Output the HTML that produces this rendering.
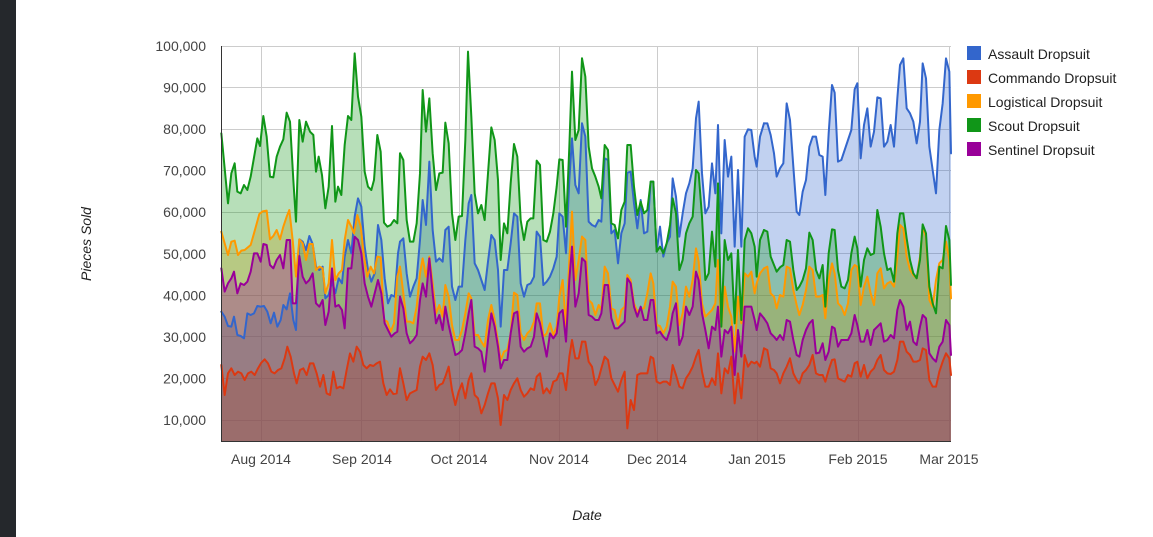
<!DOCTYPE html>
<html><head><meta charset="utf-8"><style>
html,body{margin:0;padding:0;background:#fff;}
body{width:1153px;height:537px;overflow:hidden;position:relative;font-family:"Liberation Sans",Arial,sans-serif;}
#bar{position:absolute;left:0;top:0;width:16px;height:537px;background:#25282c;}
svg{position:absolute;left:0;top:0;}
</style></head><body>
<div id="bar"></div>
<svg width="1153" height="537" viewBox="0 0 1153 537" xmlns="http://www.w3.org/2000/svg" font-family="Liberation Sans, Arial, sans-serif">
<g stroke="#cccccc" stroke-width="1" shape-rendering="crispEdges">
<line x1="221" y1="46.5" x2="951" y2="46.5"/>
<line x1="221" y1="87.5" x2="951" y2="87.5"/>
<line x1="221" y1="129.5" x2="951" y2="129.5"/>
<line x1="221" y1="170.5" x2="951" y2="170.5"/>
<line x1="221" y1="212.5" x2="951" y2="212.5"/>
<line x1="221" y1="253.5" x2="951" y2="253.5"/>
<line x1="221" y1="295.5" x2="951" y2="295.5"/>
<line x1="221" y1="336.5" x2="951" y2="336.5"/>
<line x1="221" y1="378.5" x2="951" y2="378.5"/>
<line x1="221" y1="420.5" x2="951" y2="420.5"/>
<line x1="261.5" y1="46" x2="261.5" y2="441"/>
<line x1="361.5" y1="46" x2="361.5" y2="441"/>
<line x1="459.5" y1="46" x2="459.5" y2="441"/>
<line x1="559.5" y1="46" x2="559.5" y2="441"/>
<line x1="657.5" y1="46" x2="657.5" y2="441"/>
<line x1="757.5" y1="46" x2="757.5" y2="441"/>
<line x1="858.5" y1="46" x2="858.5" y2="441"/>
<line x1="949.5" y1="46" x2="949.5" y2="441"/>
</g>

<!-- AREAS -->
<g fill-opacity="0.3" stroke="none">
<g transform="translate(218,40) scale(0.3333333)">
<polygon fill="#3366cc" points="10,815 20,830 30,858 40,860 48,830 58,885 68,888 78,895 88,820 98,825 108,820 118,798 128,800 138,798 148,815 158,850 168,818 178,860 188,840 196,795 206,808 216,760 226,840 234,870 244,598 254,605 264,630 274,588 284,612 294,680 304,690 314,680 322,775 332,765 342,725 352,760 362,715 372,730 380,650 390,600 400,640 410,530 420,475 430,500 440,620 450,690 460,725 470,700 480,555 490,600 500,715 510,790 520,765 530,770 540,640 546,605 546,1203 10,1203"/>
<polygon fill="#dc3912" points="10,975 20,1065 30,1000 40,985 50,1005 60,995 70,1000 80,1020 90,1000 100,995 110,1005 120,985 130,968 140,958 150,970 160,995 170,1000 180,990 190,985 200,955 208,920 218,950 228,1000 236,1030 246,990 256,985 266,1005 276,970 286,970 296,1000 306,1040 316,1005 326,1060 336,1065 346,995 356,1045 366,1040 376,1045 386,990 396,940 406,965 416,920 426,935 436,975 446,985 456,975 466,978 476,970 486,965 496,1030 506,1065 516,1048 526,1062 536,1060 546,985 546,1203 10,1203"/>
<polygon fill="#ff9900" points="10,575 30,645 40,605 50,602 60,645 70,632 80,630 98,615 108,580 124,522 134,514 146,512 156,598 166,588 176,570 186,598 196,560 206,530 214,510 224,600 234,710 244,598 254,610 264,660 274,612 284,612 294,690 304,680 314,685 322,760 332,730 342,600 352,720 362,700 372,690 380,600 390,540 400,560 408,580 418,525 428,560 438,650 448,710 458,680 468,700 478,650 488,652 498,840 508,845 518,875 528,850 538,710 546,680 546,1203 10,1203"/>
<polygon fill="#109618" points="10,280 30,490 40,400 50,370 58,455 68,460 78,435 88,450 98,410 118,295 126,318 136,228 146,290 156,410 166,412 176,350 186,320 196,298 206,218 216,245 226,420 234,545 244,240 254,305 264,245 276,275 286,285 294,395 302,350 312,405 322,505 332,440 342,258 352,485 360,440 370,465 380,315 390,228 400,240 410,40 420,170 430,230 440,395 450,440 460,450 468,420 478,285 488,335 498,548 508,560 518,555 528,540 538,550 546,340 546,1203 10,1203"/>
<polygon fill="#990099" points="10,685 20,755 30,730 40,715 48,695 58,760 68,730 78,735 88,725 98,695 108,640 118,640 128,665 136,612 146,615 156,675 166,685 176,660 186,645 196,685 206,600 216,600 224,790 234,790 244,648 254,710 264,730 274,720 284,700 294,790 304,800 314,780 322,855 332,815 342,685 352,800 362,795 372,810 380,865 390,685 400,685 410,590 420,600 430,640 440,730 450,770 460,800 470,760 480,720 490,760 500,850 510,870 520,890 530,880 538,875 546,770 546,1203 10,1203"/>
</g>
<g transform="translate(400,40) scale(0.3333333)">
<polygon fill="#3366cc" points="0,605 10,595 20,700 30,770 40,740 50,715 60,600 68,480 78,555 88,365 98,570 108,665 118,655 128,665 136,570 146,560 156,740 166,780 176,740 186,740 196,600 206,490 214,465 224,670 234,690 244,720 254,750 264,665 274,585 284,600 294,690 302,860 312,690 322,690 332,610 342,520 352,530 362,730 372,770 382,735 392,730 402,710 410,575 420,590 430,735 440,725 450,710 460,685 470,650 478,520 488,530 498,640 508,420 516,295 526,435 536,460 546,250 546,1203 0,1203"/>
<polygon fill="#dc3912" points="0,985 10,1030 20,1080 30,1060 40,1055 50,1050 60,980 68,950 78,960 88,940 98,975 108,1050 118,1035 128,1030 136,1010 146,980 156,1050 166,1095 176,1055 186,1030 196,1075 206,1020 214,1000 224,1065 234,1075 244,1120 254,1095 264,1060 274,1030 284,1030 294,1075 302,1155 312,1065 322,1080 332,1050 342,1030 352,1015 362,1050 372,1070 382,1060 392,1045 402,1050 410,1010 420,1000 430,1060 440,1045 450,1060 460,1025 470,1020 478,1000 488,1000 498,1050 508,950 516,900 526,955 536,955 546,905 546,1203 0,1203"/>
<polygon fill="#ff9900" points="0,680 10,760 20,845 30,845 40,850 50,800 60,700 68,655 78,710 88,650 98,730 108,820 118,795 128,830 136,735 146,770 156,855 166,900 176,900 186,870 196,820 206,760 214,775 224,885 234,885 244,905 254,920 264,840 274,795 284,840 294,905 302,960 312,935 322,930 332,880 342,758 352,765 362,880 372,900 382,880 392,870 402,845 410,790 420,790 430,890 440,880 450,850 460,885 470,860 478,770 488,720 498,860 508,660 516,515 526,720 536,660 546,590 546,1203 0,1203"/>
<polygon fill="#109618" points="0,340 10,360 20,540 30,605 40,605 50,550 60,400 68,150 78,275 88,175 98,340 108,450 118,400 128,398 136,248 146,310 156,520 166,600 176,530 186,528 196,300 204,35 214,230 224,460 234,520 244,495 254,540 264,400 274,262 284,300 294,420 302,660 312,550 322,580 332,430 342,312 352,350 362,540 372,600 382,545 392,535 400,535 410,362 420,375 430,600 440,605 450,575 460,520 470,440 478,358 488,360 498,560 508,320 516,95 526,300 536,270 546,55 546,1203 0,1203"/>
<polygon fill="#990099" points="0,770 10,805 20,880 30,910 40,900 50,885 60,780 68,730 78,770 88,655 98,760 108,850 118,825 128,870 136,800 146,855 156,900 166,945 176,940 186,930 196,880 206,820 214,780 224,920 234,925 244,935 254,995 264,900 274,820 284,860 294,920 302,985 312,960 322,960 332,880 342,820 352,815 362,920 372,935 382,925 392,920 402,890 410,820 420,850 430,900 440,950 450,880 460,895 470,880 478,820 488,810 498,905 508,720 516,620 526,800 536,760 546,655 546,1203 0,1203"/>
</g>
<g transform="translate(582,40) scale(0.3333333)">
<polygon fill="#3366cc" points="0,250 10,290 20,545 30,555 40,560 50,540 58,545 68,355 78,360 88,580 98,570 108,670 118,580 128,550 136,398 146,395 156,490 166,565 176,480 186,580 196,575 206,425 214,425 224,635 234,560 244,650 254,610 264,590 272,415 282,470 292,590 302,520 312,460 322,430 332,385 342,235 350,185 360,400 370,520 380,500 390,370 400,460 408,255 418,580 428,300 438,410 448,350 458,620 468,390 478,620 488,290 498,268 508,270 518,350 524,380 534,290 546,250 546,1203 0,1203"/>
<polygon fill="#dc3912" points="0,905 10,905 20,965 30,980 40,1035 50,1015 58,985 68,950 78,960 88,1015 98,1035 108,1055 118,1020 128,995 136,1165 146,1080 156,1110 166,1005 176,1000 186,1000 196,1000 206,950 214,955 224,1025 234,1030 244,1025 254,1025 264,1035 272,975 282,1005 292,1040 302,1045 312,1015 322,1000 332,980 342,950 350,930 360,995 370,1040 380,1040 390,1015 400,1035 408,940 418,1060 428,985 438,1000 448,950 458,1090 468,1000 478,1075 488,945 498,980 508,965 518,970 524,965 534,980 546,925 546,1203 0,1203"/>
<polygon fill="#ff9900" points="0,590 10,600 20,780 30,790 40,825 50,795 58,810 68,680 78,700 88,805 98,810 108,855 118,810 128,800 136,705 146,720 156,790 166,815 176,805 186,805 196,760 206,700 214,730 224,855 234,858 244,880 254,860 264,800 272,725 282,740 292,855 302,820 312,740 322,770 332,720 342,625 350,665 360,790 370,830 380,820 390,810 400,790 408,660 418,860 428,740 438,800 448,830 458,935 468,770 478,850 488,700 498,710 508,695 518,760 524,730 534,700 546,685 546,1203 0,1203"/>
<polygon fill="#109618" points="0,55 10,110 20,320 30,385 40,410 50,440 58,475 68,315 78,330 88,550 98,555 108,595 118,510 128,485 136,315 146,315 156,440 166,525 176,485 186,520 196,510 206,425 214,425 224,635 234,620 244,640 254,610 264,555 272,475 282,520 292,690 302,660 312,580 322,550 332,530 342,390 350,400 360,530 370,720 380,700 390,575 400,680 408,430 418,860 428,600 438,660 448,640 458,850 468,630 478,840 488,600 498,565 508,580 518,620 524,710 534,600 546,570 546,1203 0,1203"/>
<polygon fill="#990099" points="0,655 10,665 20,825 30,830 40,840 50,840 58,820 68,735 78,735 88,835 98,865 108,865 118,855 128,845 136,715 146,730 156,800 166,830 176,800 186,840 196,840 206,780 214,780 224,880 234,875 244,890 254,900 264,870 272,820 282,790 292,915 302,890 312,800 322,825 332,800 342,695 350,720 360,820 370,870 380,925 390,860 400,870 408,800 418,950 428,870 438,880 448,860 458,1005 468,870 478,950 488,800 498,800 508,800 518,840 524,870 534,820 546,835 546,1203 0,1203"/>
</g>
<g transform="translate(764,40) scale(0.3333333)">
<polygon fill="#3366cc" points="0,250 10,250 20,285 30,340 38,410 48,385 58,370 68,190 78,240 88,380 98,515 106,525 116,455 126,420 136,320 146,290 156,290 166,345 176,350 184,465 194,280 204,135 212,158 222,365 232,360 242,330 252,300 262,270 272,148 280,130 290,355 300,255 310,205 320,320 330,275 340,172 350,175 360,320 370,305 380,255 390,320 400,175 408,75 418,55 428,205 438,220 448,245 458,310 468,245 476,70 486,115 496,320 506,390 516,460 526,270 536,190 546,55 556,95 561,340 561,1203 0,1203"/>
<polygon fill="#dc3912" points="0,925 10,930 20,985 30,990 38,1000 48,1030 58,1000 68,980 78,955 88,1000 98,1020 106,1030 116,1000 126,990 136,975 146,945 156,1000 166,1005 176,1005 184,1025 194,990 204,960 212,958 222,1015 232,1020 242,1025 252,1005 262,1010 272,970 280,965 290,1010 300,975 310,1015 320,995 330,985 340,960 350,945 360,990 370,1000 380,1002 390,995 400,960 408,905 418,905 428,935 438,945 448,965 458,965 468,960 476,925 486,930 496,1020 506,1040 516,1040 526,995 536,965 546,940 556,955 561,1005 561,1203 0,1203"/>
<polygon fill="#ff9900" points="0,685 10,680 20,760 30,770 38,805 48,765 58,770 68,680 78,685 88,750 98,795 106,825 116,795 126,750 136,680 146,690 156,770 166,770 176,765 184,835 194,720 204,670 212,700 222,790 232,800 242,825 252,790 262,690 272,675 280,680 290,795 300,740 310,710 320,760 330,795 340,700 350,685 360,745 370,730 380,725 390,740 400,650 408,555 418,565 428,650 438,690 448,705 458,715 468,650 476,560 486,590 496,780 506,800 516,720 526,670 536,660 546,605 556,660 561,775 561,1203 0,1203"/>
<polygon fill="#109618" points="0,570 10,575 20,650 30,675 38,695 48,682 58,675 68,600 78,605 88,690 98,750 106,740 116,720 126,685 136,578 146,600 156,690 166,715 176,675 184,800 194,640 204,568 212,570 222,690 232,740 242,745 252,720 262,640 272,590 280,625 290,740 300,660 310,625 320,645 330,640 340,510 350,560 360,640 370,690 380,685 390,725 400,580 408,520 418,520 428,595 438,660 448,700 458,715 468,660 476,553 486,580 496,740 506,790 516,820 526,680 536,685 546,558 556,600 561,735 561,1203 0,1203"/>
<polygon fill="#990099" points="0,835 10,850 20,880 30,890 38,900 48,885 58,900 68,840 78,845 88,900 98,945 106,950 116,900 126,870 136,850 146,840 156,940 166,938 176,910 184,960 194,935 204,860 212,865 222,920 232,900 242,900 252,900 262,880 272,825 280,855 290,905 300,905 310,870 320,915 330,870 340,860 350,850 360,905 370,900 380,885 390,895 400,810 408,780 418,800 428,870 438,845 448,905 458,915 468,860 476,825 486,835 496,940 506,955 516,965 526,920 536,905 546,840 556,855 561,945 561,1203 0,1203"/>
</g>
</g>

<!-- LINES -->
<g fill="none" stroke-width="6" stroke-linejoin="round" stroke-linecap="round">
<g transform="translate(218,40) scale(0.3333333)">
<polyline stroke="#3366cc" points="10,815 20,830 30,858 40,860 48,830 58,885 68,888 78,895 88,820 98,825 108,820 118,798 128,800 138,798 148,815 158,850 168,818 178,860 188,840 196,795 206,808 216,760 226,840 234,870 244,598 254,605 264,630 274,588 284,612 294,680 304,690 314,680 322,775 332,765 342,725 352,760 362,715 372,730 380,650 390,600 400,640 410,530 420,475 430,500 440,620 450,690 460,725 470,700 480,555 490,600 500,715 510,790 520,765 530,770 540,640 546,605"/>
<polyline stroke="#dc3912" points="10,975 20,1065 30,1000 40,985 50,1005 60,995 70,1000 80,1020 90,1000 100,995 110,1005 120,985 130,968 140,958 150,970 160,995 170,1000 180,990 190,985 200,955 208,920 218,950 228,1000 236,1030 246,990 256,985 266,1005 276,970 286,970 296,1000 306,1040 316,1005 326,1060 336,1065 346,995 356,1045 366,1040 376,1045 386,990 396,940 406,965 416,920 426,935 436,975 446,985 456,975 466,978 476,970 486,965 496,1030 506,1065 516,1048 526,1062 536,1060 546,985"/>
<polyline stroke="#ff9900" points="10,575 30,645 40,605 50,602 60,645 70,632 80,630 98,615 108,580 124,522 134,514 146,512 156,598 166,588 176,570 186,598 196,560 206,530 214,510 224,600 234,710 244,598 254,610 264,660 274,612 284,612 294,690 304,680 314,685 322,760 332,730 342,600 352,720 362,700 372,690 380,600 390,540 400,560 408,580 418,525 428,560 438,650 448,710 458,680 468,700 478,650 488,652 498,840 508,845 518,875 528,850 538,710 546,680"/>
<polyline stroke="#109618" points="10,280 30,490 40,400 50,370 58,455 68,460 78,435 88,450 98,410 118,295 126,318 136,228 146,290 156,410 166,412 176,350 186,320 196,298 206,218 216,245 226,420 234,545 244,240 254,305 264,245 276,275 286,285 294,395 302,350 312,405 322,505 332,440 342,258 352,485 360,440 370,465 380,315 390,228 400,240 410,40 420,170 430,230 440,395 450,440 460,450 468,420 478,285 488,335 498,548 508,560 518,555 528,540 538,550 546,340"/>
<polyline stroke="#990099" points="10,685 20,755 30,730 40,715 48,695 58,760 68,730 78,735 88,725 98,695 108,640 118,640 128,665 136,612 146,615 156,675 166,685 176,660 186,645 196,685 206,600 216,600 224,790 234,790 244,648 254,710 264,730 274,720 284,700 294,790 304,800 314,780 322,855 332,815 342,685 352,800 362,795 372,810 380,865 390,685 400,685 410,590 420,600 430,640 440,730 450,770 460,800 470,760 480,720 490,760 500,850 510,870 520,890 530,880 538,875 546,770"/>
</g>
<g transform="translate(400,40) scale(0.3333333)">
<polyline stroke="#3366cc" points="0,605 10,595 20,700 30,770 40,740 50,715 60,600 68,480 78,555 88,365 98,570 108,665 118,655 128,665 136,570 146,560 156,740 166,780 176,740 186,740 196,600 206,490 214,465 224,670 234,690 244,720 254,750 264,665 274,585 284,600 294,690 302,860 312,690 322,690 332,610 342,520 352,530 362,730 372,770 382,735 392,730 402,710 410,575 420,590 430,735 440,725 450,710 460,685 470,650 478,520 488,530 498,640 508,420 516,295 526,435 536,460 546,250"/>
<polyline stroke="#dc3912" points="0,985 10,1030 20,1080 30,1060 40,1055 50,1050 60,980 68,950 78,960 88,940 98,975 108,1050 118,1035 128,1030 136,1010 146,980 156,1050 166,1095 176,1055 186,1030 196,1075 206,1020 214,1000 224,1065 234,1075 244,1120 254,1095 264,1060 274,1030 284,1030 294,1075 302,1155 312,1065 322,1080 332,1050 342,1030 352,1015 362,1050 372,1070 382,1060 392,1045 402,1050 410,1010 420,1000 430,1060 440,1045 450,1060 460,1025 470,1020 478,1000 488,1000 498,1050 508,950 516,900 526,955 536,955 546,905"/>
<polyline stroke="#ff9900" points="0,680 10,760 20,845 30,845 40,850 50,800 60,700 68,655 78,710 88,650 98,730 108,820 118,795 128,830 136,735 146,770 156,855 166,900 176,900 186,870 196,820 206,760 214,775 224,885 234,885 244,905 254,920 264,840 274,795 284,840 294,905 302,960 312,935 322,930 332,880 342,758 352,765 362,880 372,900 382,880 392,870 402,845 410,790 420,790 430,890 440,880 450,850 460,885 470,860 478,770 488,720 498,860 508,660 516,515 526,720 536,660 546,590"/>
<polyline stroke="#109618" points="0,340 10,360 20,540 30,605 40,605 50,550 60,400 68,150 78,275 88,175 98,340 108,450 118,400 128,398 136,248 146,310 156,520 166,600 176,530 186,528 196,300 204,35 214,230 224,460 234,520 244,495 254,540 264,400 274,262 284,300 294,420 302,660 312,550 322,580 332,430 342,312 352,350 362,540 372,600 382,545 392,535 400,535 410,362 420,375 430,600 440,605 450,575 460,520 470,440 478,358 488,360 498,560 508,320 516,95 526,300 536,270 546,55"/>
<polyline stroke="#990099" points="0,770 10,805 20,880 30,910 40,900 50,885 60,780 68,730 78,770 88,655 98,760 108,850 118,825 128,870 136,800 146,855 156,900 166,945 176,940 186,930 196,880 206,820 214,780 224,920 234,925 244,935 254,995 264,900 274,820 284,860 294,920 302,985 312,960 322,960 332,880 342,820 352,815 362,920 372,935 382,925 392,920 402,890 410,820 420,850 430,900 440,950 450,880 460,895 470,880 478,820 488,810 498,905 508,720 516,620 526,800 536,760 546,655"/>
</g>
<g transform="translate(582,40) scale(0.3333333)">
<polyline stroke="#3366cc" points="0,250 10,290 20,545 30,555 40,560 50,540 58,545 68,355 78,360 88,580 98,570 108,670 118,580 128,550 136,398 146,395 156,490 166,565 176,480 186,580 196,575 206,425 214,425 224,635 234,560 244,650 254,610 264,590 272,415 282,470 292,590 302,520 312,460 322,430 332,385 342,235 350,185 360,400 370,520 380,500 390,370 400,460 408,255 418,580 428,300 438,410 448,350 458,620 468,390 478,620 488,290 498,268 508,270 518,350 524,380 534,290 546,250"/>
<polyline stroke="#dc3912" points="0,905 10,905 20,965 30,980 40,1035 50,1015 58,985 68,950 78,960 88,1015 98,1035 108,1055 118,1020 128,995 136,1165 146,1080 156,1110 166,1005 176,1000 186,1000 196,1000 206,950 214,955 224,1025 234,1030 244,1025 254,1025 264,1035 272,975 282,1005 292,1040 302,1045 312,1015 322,1000 332,980 342,950 350,930 360,995 370,1040 380,1040 390,1015 400,1035 408,940 418,1060 428,985 438,1000 448,950 458,1090 468,1000 478,1075 488,945 498,980 508,965 518,970 524,965 534,980 546,925"/>
<polyline stroke="#ff9900" points="0,590 10,600 20,780 30,790 40,825 50,795 58,810 68,680 78,700 88,805 98,810 108,855 118,810 128,800 136,705 146,720 156,790 166,815 176,805 186,805 196,760 206,700 214,730 224,855 234,858 244,880 254,860 264,800 272,725 282,740 292,855 302,820 312,740 322,770 332,720 342,625 350,665 360,790 370,830 380,820 390,810 400,790 408,660 418,860 428,740 438,800 448,830 458,935 468,770 478,850 488,700 498,710 508,695 518,760 524,730 534,700 546,685"/>
<polyline stroke="#109618" points="0,55 10,110 20,320 30,385 40,410 50,440 58,475 68,315 78,330 88,550 98,555 108,595 118,510 128,485 136,315 146,315 156,440 166,525 176,485 186,520 196,510 206,425 214,425 224,635 234,620 244,640 254,610 264,555 272,475 282,520 292,690 302,660 312,580 322,550 332,530 342,390 350,400 360,530 370,720 380,700 390,575 400,680 408,430 418,860 428,600 438,660 448,640 458,850 468,630 478,840 488,600 498,565 508,580 518,620 524,710 534,600 546,570"/>
<polyline stroke="#990099" points="0,655 10,665 20,825 30,830 40,840 50,840 58,820 68,735 78,735 88,835 98,865 108,865 118,855 128,845 136,715 146,730 156,800 166,830 176,800 186,840 196,840 206,780 214,780 224,880 234,875 244,890 254,900 264,870 272,820 282,790 292,915 302,890 312,800 322,825 332,800 342,695 350,720 360,820 370,870 380,925 390,860 400,870 408,800 418,950 428,870 438,880 448,860 458,1005 468,870 478,950 488,800 498,800 508,800 518,840 524,870 534,820 546,835"/>
</g>
<g transform="translate(764,40) scale(0.3333333)">
<polyline stroke="#3366cc" points="0,250 10,250 20,285 30,340 38,410 48,385 58,370 68,190 78,240 88,380 98,515 106,525 116,455 126,420 136,320 146,290 156,290 166,345 176,350 184,465 194,280 204,135 212,158 222,365 232,360 242,330 252,300 262,270 272,148 280,130 290,355 300,255 310,205 320,320 330,275 340,172 350,175 360,320 370,305 380,255 390,320 400,175 408,75 418,55 428,205 438,220 448,245 458,310 468,245 476,70 486,115 496,320 506,390 516,460 526,270 536,190 546,55 556,95 561,340"/>
<polyline stroke="#dc3912" points="0,925 10,930 20,985 30,990 38,1000 48,1030 58,1000 68,980 78,955 88,1000 98,1020 106,1030 116,1000 126,990 136,975 146,945 156,1000 166,1005 176,1005 184,1025 194,990 204,960 212,958 222,1015 232,1020 242,1025 252,1005 262,1010 272,970 280,965 290,1010 300,975 310,1015 320,995 330,985 340,960 350,945 360,990 370,1000 380,1002 390,995 400,960 408,905 418,905 428,935 438,945 448,965 458,965 468,960 476,925 486,930 496,1020 506,1040 516,1040 526,995 536,965 546,940 556,955 561,1005"/>
<polyline stroke="#ff9900" points="0,685 10,680 20,760 30,770 38,805 48,765 58,770 68,680 78,685 88,750 98,795 106,825 116,795 126,750 136,680 146,690 156,770 166,770 176,765 184,835 194,720 204,670 212,700 222,790 232,800 242,825 252,790 262,690 272,675 280,680 290,795 300,740 310,710 320,760 330,795 340,700 350,685 360,745 370,730 380,725 390,740 400,650 408,555 418,565 428,650 438,690 448,705 458,715 468,650 476,560 486,590 496,780 506,800 516,720 526,670 536,660 546,605 556,660 561,775"/>
<polyline stroke="#109618" points="0,570 10,575 20,650 30,675 38,695 48,682 58,675 68,600 78,605 88,690 98,750 106,740 116,720 126,685 136,578 146,600 156,690 166,715 176,675 184,800 194,640 204,568 212,570 222,690 232,740 242,745 252,720 262,640 272,590 280,625 290,740 300,660 310,625 320,645 330,640 340,510 350,560 360,640 370,690 380,685 390,725 400,580 408,520 418,520 428,595 438,660 448,700 458,715 468,660 476,553 486,580 496,740 506,790 516,820 526,680 536,685 546,558 556,600 561,735"/>
<polyline stroke="#990099" points="0,835 10,850 20,880 30,890 38,900 48,885 58,900 68,840 78,845 88,900 98,945 106,950 116,900 126,870 136,850 146,840 156,940 166,938 176,910 184,960 194,935 204,860 212,865 222,920 232,900 242,900 252,900 262,880 272,825 280,855 290,905 300,905 310,870 320,915 330,870 340,860 350,850 360,905 370,900 380,885 390,895 400,810 408,780 418,800 428,870 438,845 448,905 458,915 468,860 476,825 486,835 496,940 506,955 516,965 526,920 536,905 546,840 556,855 561,945"/>
</g>
</g>

<!-- axes -->
<g stroke="#333333" stroke-width="1" shape-rendering="crispEdges">
<line x1="221.5" y1="46" x2="221.5" y2="441"/>
<line x1="221" y1="441.5" x2="951" y2="441.5"/>
</g>

<!-- y labels -->
<g font-size="14" fill="#444444" text-anchor="end">
<text x="206" y="51">100,000</text>
<text x="206" y="92.6">90,000</text>
<text x="206" y="134.1">80,000</text>
<text x="206" y="175.7">70,000</text>
<text x="206" y="217.2">60,000</text>
<text x="206" y="258.8">50,000</text>
<text x="206" y="300.4">40,000</text>
<text x="206" y="341.9">30,000</text>
<text x="206" y="383.5">20,000</text>
<text x="206" y="425">10,000</text>
</g>
<!-- x labels -->
<g font-size="14" fill="#444444" text-anchor="middle">
<text x="261" y="464">Aug 2014</text>
<text x="362" y="464">Sep 2014</text>
<text x="459" y="464">Oct 2014</text>
<text x="559" y="464">Nov 2014</text>
<text x="657" y="464">Dec 2014</text>
<text x="757" y="464">Jan 2015</text>
<text x="858" y="464">Feb 2015</text>
<text x="949" y="464">Mar 2015</text>
</g>
<!-- axis titles -->
<text x="587" y="520" font-size="14" font-style="italic" fill="#222222" text-anchor="middle">Date</text>
<text transform="translate(91,244) rotate(-90)" font-size="14" font-style="italic" fill="#222222" text-anchor="middle">Pieces Sold</text>

<!-- legend -->
<g font-size="14" fill="#222222">
<rect x="967" y="46" width="14" height="14" fill="#3366cc"/>
<text x="988" y="59">Assault Dropsuit</text>
<rect x="967" y="70" width="14" height="14" fill="#dc3912"/>
<text x="988" y="83">Commando Dropsuit</text>
<rect x="967" y="94" width="14" height="14" fill="#ff9900"/>
<text x="988" y="107">Logistical Dropsuit</text>
<rect x="967" y="118" width="14" height="14" fill="#109618"/>
<text x="988" y="131">Scout Dropsuit</text>
<rect x="967" y="142" width="14" height="14" fill="#990099"/>
<text x="988" y="155">Sentinel Dropsuit</text>
</g>
</svg>
</body></html>
